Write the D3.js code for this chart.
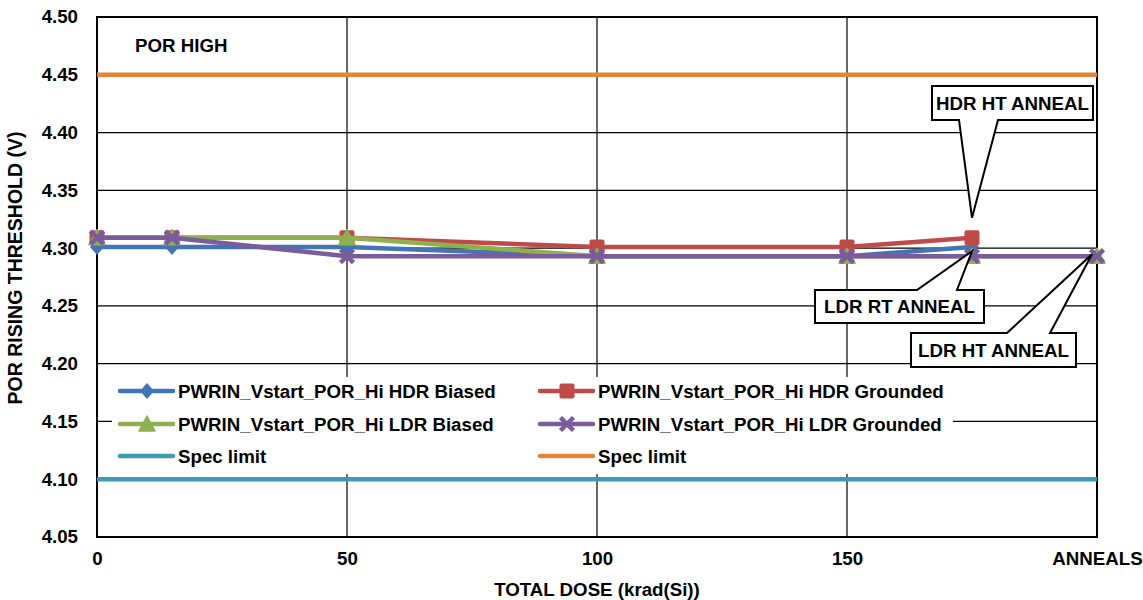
<!DOCTYPE html>
<html><head><meta charset="utf-8">
<script src="https://cdn.jsdelivr.net/npm/d3@7"></script>
<style>body{margin:0;background:#fff}svg{display:block;font-family:"Liberation Sans",Arial,sans-serif;font-weight:bold}</style>
</head><body><svg id="c" width="1143" height="600"></svg>
<script>
// ---- data ----
const doses = [0, 15, 50, 100, 150, 175, 200];
const hdrBiased   = [4.301, 4.301, 4.301, 4.293, 4.293, 4.301];
const hdrGrounded = [4.309, 4.309, 4.309, 4.301, 4.301, 4.309];
const ldrBiased   = [4.309, 4.309, 4.309, 4.293, 4.293, 4.293, 4.293];
const ldrGrounded = [4.309, 4.309, 4.293, 4.293, 4.293, 4.293, 4.293];
const specLow = 4.10, specHigh = 4.45;
const yTicks = [4.05, 4.10, 4.15, 4.20, 4.25, 4.30, 4.35, 4.40, 4.45, 4.50];
const xTicks = [0, 50, 100, 150, 200];
const xTickLabels = ["0", "50", "100", "150", "ANNEALS"];
const seriesNames = ["PWRIN_Vstart_POR_Hi HDR Biased", "PWRIN_Vstart_POR_Hi HDR Grounded",
  "PWRIN_Vstart_POR_Hi LDR Biased", "PWRIN_Vstart_POR_Hi LDR Grounded"];

const svg = d3.select("#c");
const L = 97, R = 1097, T = 17, B = 537;
const FS = 18.7;
const x = d3.scaleLinear().domain([0, 200]).range([L, R]);
const y = d3.scaleLinear().domain([4.05, 4.50]).range([B, T]);

const C = {blue:"#4374B3", red:"#BE4B48", green:"#8FB04F", purple:"#7A5C9C", teal:"#3D9AB3", orange:"#E5853A"};

// grid
svg.append("g").selectAll("line").data(yTicks).join("line")
  .attr("x1", L).attr("x2", R).attr("y1", d => y(d)).attr("y2", d => y(d))
  .attr("stroke", "#000").attr("stroke-width", 1.2);
svg.append("g").selectAll("line").data([50, 100, 150]).join("line")
  .attr("x1", d => x(d)).attr("x2", d => x(d)).attr("y1", T).attr("y2", B)
  .attr("stroke", "#000").attr("stroke-width", 1.2);
svg.append("rect").attr("x", L).attr("y", T).attr("width", R - L).attr("height", B - T)
  .attr("fill", "none").attr("stroke", "#000").attr("stroke-width", 2);

// axis labels
const yAxis = d3.axisLeft(y).tickValues(yTicks).tickFormat(d3.format(".2f")).tickSize(0).tickPadding(19);
const gy = svg.append("g").attr("transform", `translate(${L},0)`).call(yAxis);
gy.select(".domain").remove();
gy.selectAll("text").attr("font-size", FS).attr("font-weight", "bold").attr("font-family", "Liberation Sans, Arial, sans-serif").attr("fill", "#000");
const xAxis = d3.axisBottom(x).tickValues(xTicks).tickFormat((d, i) => xTickLabels[i]).tickSize(0).tickPadding(15);
const gx = svg.append("g").attr("transform", `translate(0,${B})`).call(xAxis);
gx.select(".domain").remove();
gx.selectAll("text").attr("font-size", FS).attr("font-weight", "bold").attr("font-family", "Liberation Sans, Arial, sans-serif").attr("fill", "#000");

svg.append("text").attr("x", (L + R) / 2).attr("y", 596).attr("text-anchor", "middle").attr("font-size", FS).text("TOTAL DOSE (krad(Si))");
svg.append("text").attr("transform", "translate(22,268) rotate(-90)").attr("text-anchor", "middle").attr("font-size", 19.5).text("POR RISING THRESHOLD (V)");
svg.append("text").attr("x", 135).attr("y", 52).attr("font-size", FS).text("POR HIGH");

// markers
function marker(g, type, color, cx, cy) {
  if (type === "diamond") g.append("path").attr("d", `M${cx},${cy-8}L${cx+7},${cy}L${cx},${cy+8}L${cx-7},${cy}Z`).attr("fill", color);
  else if (type === "square") g.append("rect").attr("x", cx - 7.5).attr("y", cy - 7.5).attr("width", 15).attr("height", 15).attr("rx", 2).attr("fill", color);
  else if (type === "triangle") g.append("path").attr("d", `M${cx},${cy-8}L${cx+8},${cy+7}L${cx-8},${cy+7}Z`).attr("fill", color).attr("stroke", color).attr("stroke-width", 1.5).attr("stroke-linejoin", "round");
  else if (type === "x") g.append("path").attr("d", `M${cx-6.5},${cy-6.5}L${cx+6.5},${cy+6.5}M${cx-6.5},${cy+6.5}L${cx+6.5},${cy-6.5}`).attr("stroke", color).attr("stroke-width", 4.5);
}

const series = [
  {vals: hdrBiased, color: C.blue, m: "diamond"},
  {vals: hdrGrounded, color: C.red, m: "square"},
  {vals: ldrBiased, color: C.green, m: "triangle"},
  {vals: ldrGrounded, color: C.purple, m: "x"}
];
const line = d3.line().x(d => x(d[0])).y(d => y(d[1]));
// spec lines
[[specLow, C.teal], [specHigh, C.orange]].forEach(([v, c]) => {
  svg.append("path").attr("d", line([[0, v], [200, v]])).attr("stroke", c).attr("stroke-width", 4.5).attr("fill", "none");
});
series.forEach(s => {
  const pts = s.vals.map((v, i) => [doses[i], v]);
  const g = svg.append("g");
  g.append("path").attr("d", line(pts)).attr("stroke", s.color).attr("stroke-width", 4.5).attr("fill", "none").attr("stroke-linejoin", "round");
  pts.forEach(p => marker(g, s.m, s.color, x(p[0]), y(p[1])));
});

// legend
svg.append("rect").attr("x", 112).attr("y", 377).attr("width", 841).attr("height", 97).attr("fill", "#fff");
const legItems = [
  {name: seriesNames[0], color: C.blue, m: "diamond", col: 0, row: 0},
  {name: seriesNames[1], color: C.red, m: "square", col: 1, row: 0},
  {name: seriesNames[2], color: C.green, m: "triangle", col: 0, row: 1},
  {name: seriesNames[3], color: C.purple, m: "x", col: 1, row: 1},
  {name: "Spec limit", color: C.teal, m: null, col: 0, row: 2},
  {name: "Spec limit", color: C.orange, m: null, col: 1, row: 2}
];
const colX = [120, 540], rowY = [391, 424, 456];
legItems.forEach(it => {
  const lx = colX[it.col], ly = rowY[it.row];
  const g = svg.append("g");
  g.append("line").attr("x1", lx).attr("x2", lx + 53).attr("y1", ly).attr("y2", ly).attr("stroke", it.color).attr("stroke-width", 4.5).attr("stroke-linecap", "round");
  if (it.m) marker(g, it.m, it.color, lx + 27, ly);
  g.append("text").attr("x", lx + 58).attr("y", ly + 6.8).attr("font-size", FS).text(it.name);
});

// callouts
const callouts = [
  {text: "HDR HT ANNEAL", dose: 175, val: hdrGrounded[5], tipDy: -20, box: [932, 86, 1093, 120], base: [998, 959], side: "bottom"},
  {text: "LDR RT ANNEAL", dose: 175, val: ldrBiased[5], tipDy: -5, box: [815, 290, 984, 323], base: [917, 957], side: "top"},
  {text: "LDR HT ANNEAL", dose: 200, val: ldrBiased[6], tipDy: -2, box: [911, 333, 1076, 367], base: [1007, 1050], side: "top"}
];
callouts.forEach(c => {
  const tx = x(c.dose) - (c.dose === 200 ? 5 : 0), ty = y(c.val) + c.tipDy;
  const [x0, y0, x1, y1] = c.box;
  let d;
  if (c.side === "bottom") d = `M${x0},${y0}H${x1}V${y1}H${c.base[0]}L${tx},${ty}L${c.base[1]},${y1}H${x0}Z`;
  else d = `M${x0},${y0}H${c.base[0]}L${tx},${ty}L${c.base[1]},${y0}H${x1}V${y1}H${x0}Z`;
  svg.append("path").attr("d", d).attr("fill", "#fff").attr("stroke", "#000").attr("stroke-width", 2).attr("stroke-linejoin", "miter");
  svg.append("text").attr("x", (x0 + x1) / 2).attr("y", (y0 + y1) / 2 + 6.8).attr("text-anchor", "middle").attr("font-size", FS).text(c.text);
});
</script></body></html>
